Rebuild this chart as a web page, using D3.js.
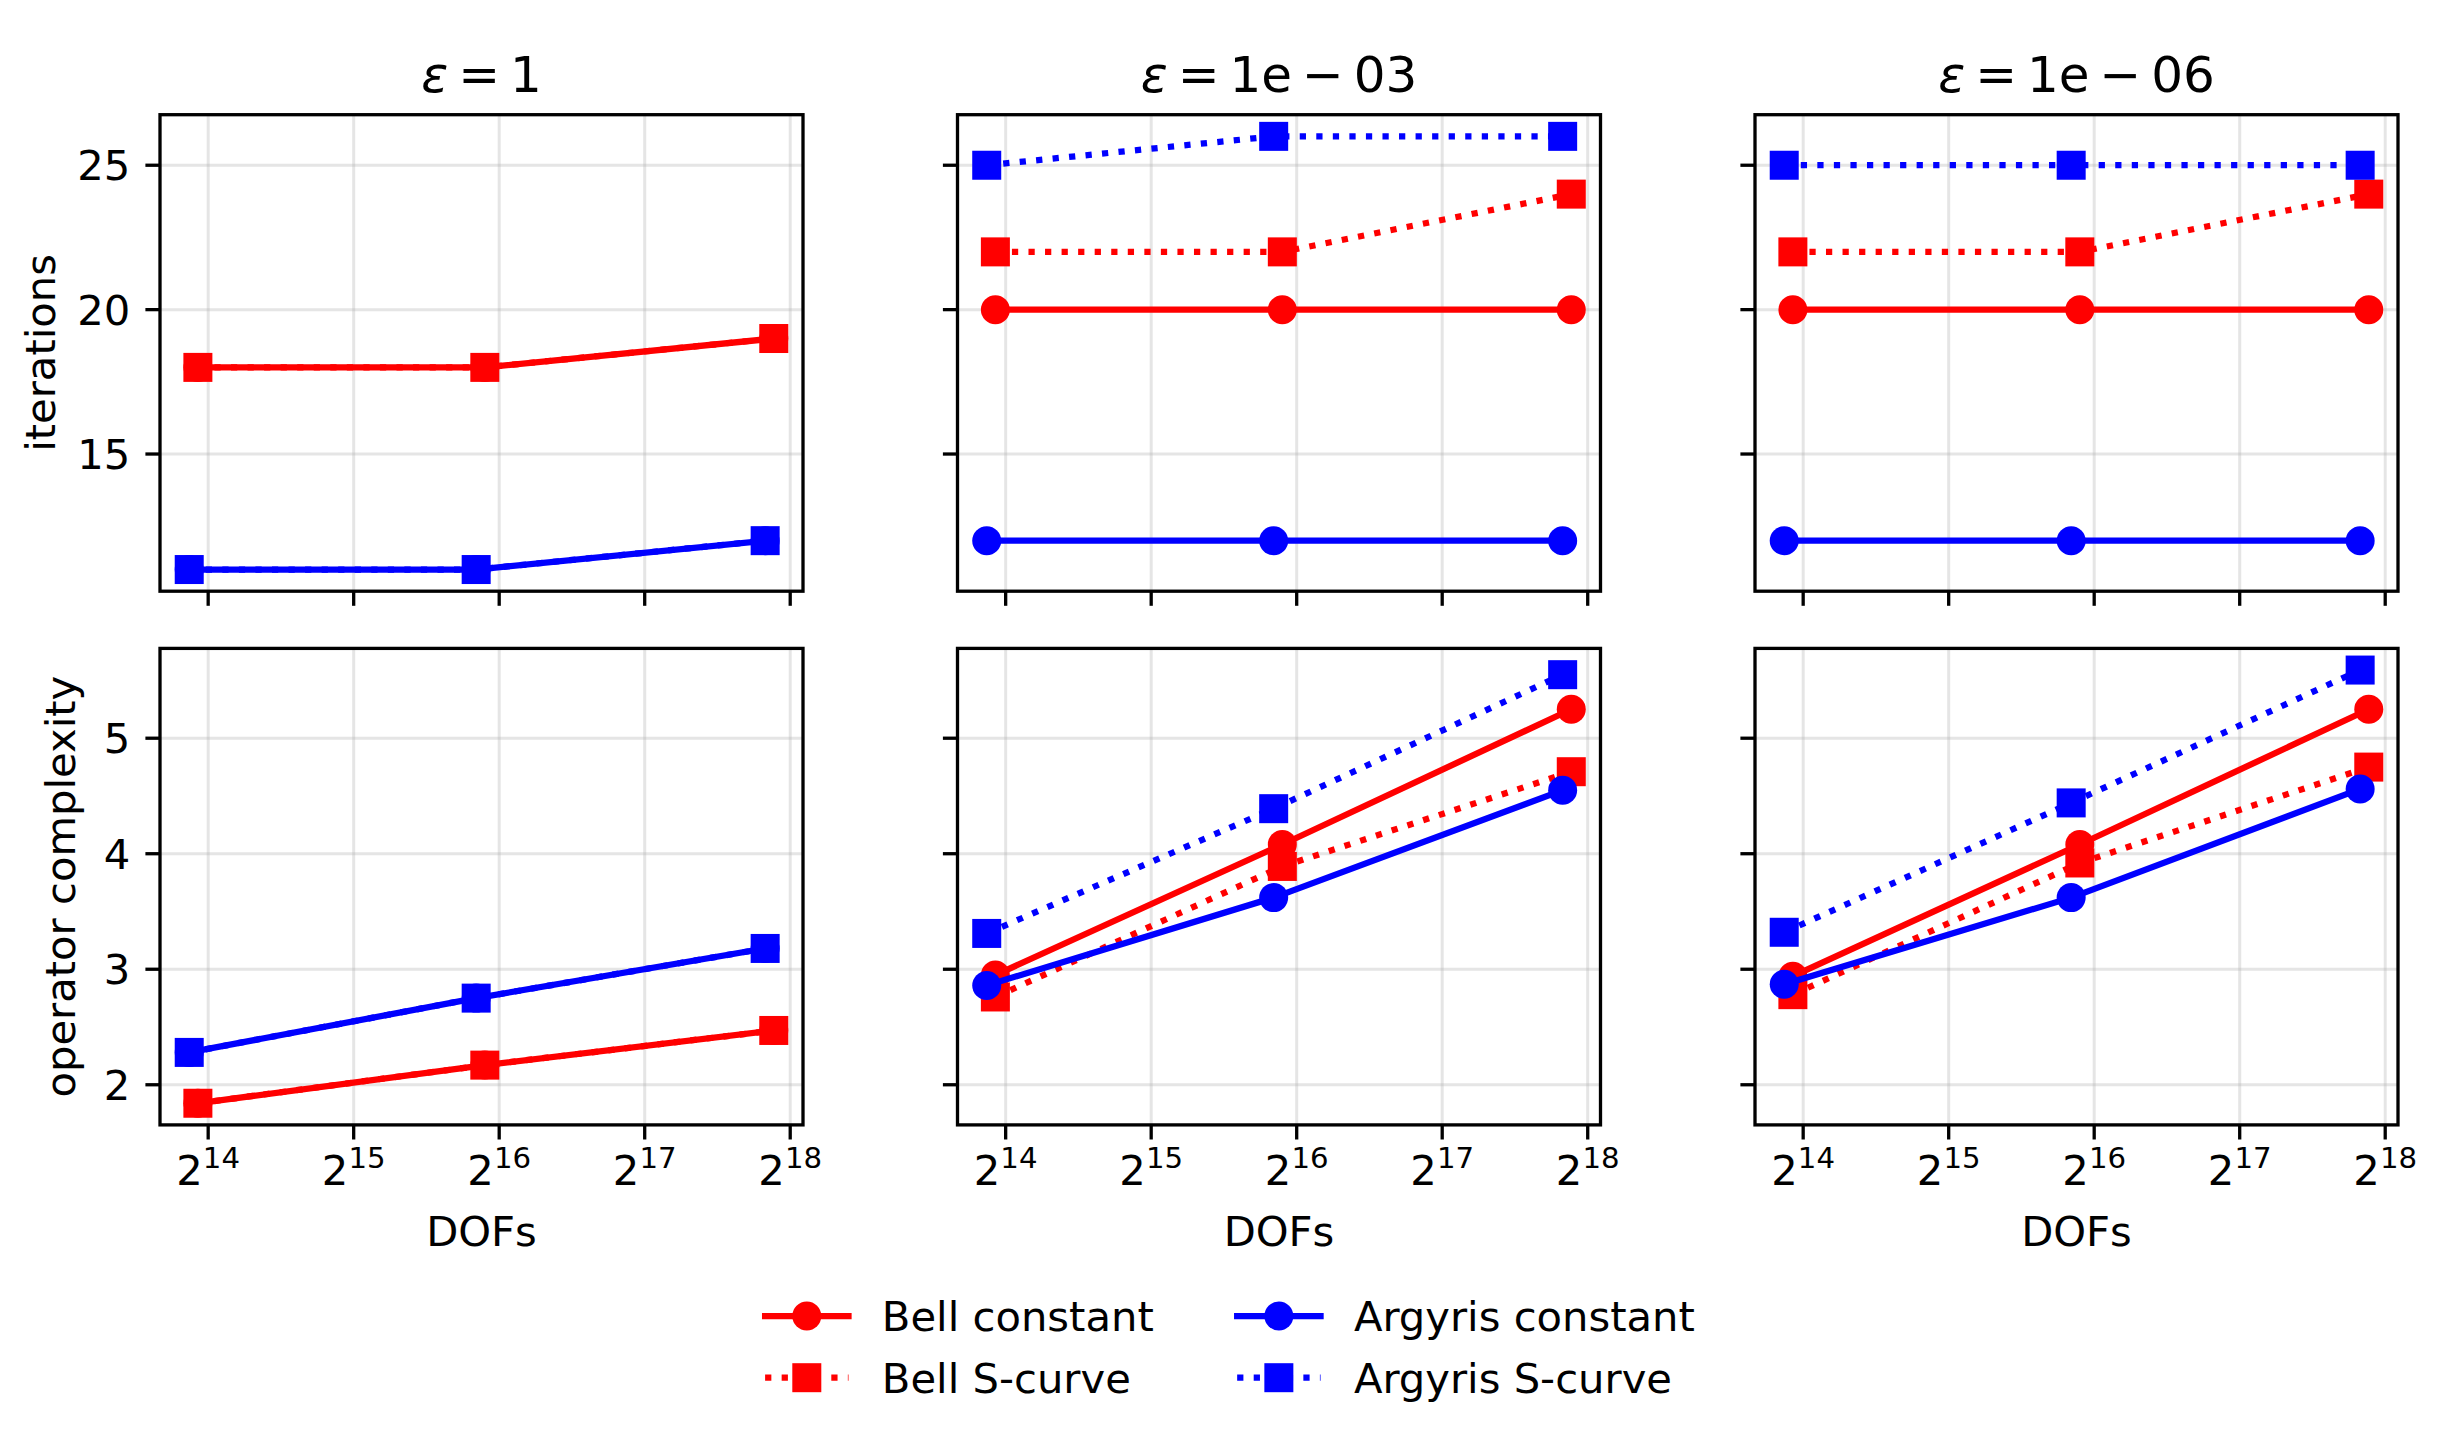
<!DOCTYPE html>
<html>
<head>
<meta charset="utf-8">
<script src="https://cdn.jsdelivr.net/npm/d3@7"></script>
<style>
body { margin: 0; background: #fff; }
text { font-family: "DejaVu Sans", sans-serif; fill: #000; }
</style>
</head>
<body>
<svg id="fig" width="2460" height="1440"></svg>
<script>

// ---- data ----
var epsLabels = ['1', '1e-03', '1e-06'];
var dofsBell = [15600, 61200, 242400];
var dofsArgyris = [14970, 58730, 232650];
var xTickExp = [14, 15, 16, 17, 18];

var seriesNames = ['Bell constant', 'Bell S-curve', 'Argyris constant', 'Argyris S-curve'];

// iterations, one inner array per epsilon column
var itBellConst = [[18, 18, 19], [20, 20, 20], [20, 20, 20]];
var itBellS     = [[18, 18, 19], [22, 22, 24], [22, 22, 24]];
var itArgConst  = [[11, 11, 12], [12, 12, 12], [12, 12, 12]];
var itArgS      = [[11, 11, 12], [25, 26, 26], [25, 25, 25]];
var itTicks = [15, 20, 25];

// operator complexity
var ocBellConst = [[1.84, 2.17, 2.47], [2.95, 4.08, 5.25], [2.94, 4.08, 5.25]];
var ocBellS     = [[1.84, 2.17, 2.47], [2.76, 3.89, 4.71], [2.78, 3.92, 4.75]];
var ocArgConst  = [[2.28, 2.75, 3.18], [2.86, 3.62, 4.55], [2.87, 3.62, 4.56]];
var ocArgS      = [[2.28, 2.75, 3.18], [3.31, 4.39, 5.55], [3.32, 4.44, 5.59]];
var ocTicks = [2, 3, 4, 5];


var svg = d3.select('#fig');
var fs = 41.7;              // 10pt at 300 dpi
var W = 643, H = 476.5;
var colX = [160, 957.5, 1755];
var rowY = [114.7, 648.4];
var lw = 6.25, ms = 29, tickLen = 14.6, spineW = 3.3;
var dotted = '6.25,10.3';

var styles = [
    { color: 'red',  dash: null,   marker: 'o' },
    { color: 'red',  dash: dotted, marker: 's' },
    { color: 'blue', dash: null,   marker: 'o' },
    { color: 'blue', dash: dotted, marker: 's' }
];

var rows = [
    { label: 'iterations', sets: [itBellConst, itBellS, itArgConst, itArgS], ticks: itTicks, lx: 55 },
    { label: 'operator complexity', sets: [ocBellConst, ocBellS, ocArgConst, ocArgS], ticks: ocTicks, lx: 74.5 }
];

// shared log2 x domain with 5% margins (in log space)
var lext = d3.extent(dofsBell.concat(dofsArgyris), function(d){ return Math.log2(d); });
var lm = (lext[1] - lext[0]) * 0.05;
var xDomain = [Math.pow(2, lext[0] - lm), Math.pow(2, lext[1] + lm)];

function drawMarker(g, kind, x, y, color){
    if( kind == 'o' ){
        g.append('circle').attr('cx', x).attr('cy', y).attr('r', ms/2).attr('fill', color);
    } else {
        g.append('rect').attr('x', x - ms/2).attr('y', y - ms/2)
            .attr('width', ms).attr('height', ms).attr('fill', color);
    }
}

function drawPanel(r, c){
    var row = rows[r];
    var all = [];
    row.sets.forEach(function(s){ s.forEach(function(a){ all = all.concat(a); }); });
    var ye = d3.extent(all);
    var ym = (ye[1] - ye[0]) * 0.05;

    var x = d3.scaleLog().base(2).domain(xDomain).range([0, W]);
    var y = d3.scaleLinear().domain([ye[0] - ym, ye[1] + ym]).range([H, 0]);

    var g = svg.append('g').attr('transform', 'translate(' + colX[c] + ',' + rowY[r] + ')');

    // grid
    var grid = g.append('g').attr('stroke', '#b0b0b0').attr('stroke-opacity', 0.33).attr('stroke-width', 3);
    xTickExp.forEach(function(e){
        var px = x(Math.pow(2, e));
        grid.append('line').attr('x1', px).attr('x2', px).attr('y1', 0).attr('y2', H);
    });
    row.ticks.forEach(function(t){
        grid.append('line').attr('x1', 0).attr('x2', W).attr('y1', y(t)).attr('y2', y(t));
    });

    // series: line, then its markers
    styles.forEach(function(st, s){
        var dofs = s < 2 ? dofsBell : dofsArgyris;
        var vals = row.sets[s][c];
        var pts = vals.map(function(v, i){ return [x(dofs[i]), y(v)]; });
        var path = g.append('path')
            .attr('d', d3.line()(pts))
            .attr('fill', 'none')
            .attr('stroke', st.color)
            .attr('stroke-width', lw)
            .attr('stroke-linejoin', 'round');
        if( st.dash ){
            path.attr('stroke-dasharray', st.dash).attr('stroke-linecap', 'butt');
        } else {
            path.attr('stroke-linecap', 'square');
        }
        pts.forEach(function(p){ drawMarker(g, st.marker, p[0], p[1], st.color); });
    });

    // spines
    g.append('rect').attr('x', 0).attr('y', 0).attr('width', W).attr('height', H)
        .attr('fill', 'none').attr('stroke', '#000').attr('stroke-width', spineW);

    // x ticks
    xTickExp.forEach(function(e){
        var px = x(Math.pow(2, e));
        g.append('line').attr('x1', px).attr('x2', px).attr('y1', H).attr('y2', H + tickLen)
            .attr('stroke', '#000').attr('stroke-width', spineW);
        if( r == 1 ){
            var t = g.append('text').attr('x', px).attr('y', H + 60)
                .attr('text-anchor', 'middle').style('font-size', fs + 'px');
            t.append('tspan').text('2');
            t.append('tspan').attr('dy', -17).style('font-size', (fs*0.7) + 'px').text(e);
        }
    });
    // y ticks
    row.ticks.forEach(function(tv){
        var py = y(tv);
        g.append('line').attr('x1', -tickLen).attr('x2', 0).attr('y1', py).attr('y2', py)
            .attr('stroke', '#000').attr('stroke-width', spineW);
        if( c == 0 ){
            g.append('text').attr('x', -2*tickLen - 0.5).attr('y', py + 15.2)
                .attr('text-anchor', 'end').style('font-size', fs + 'px').text(tv);
        }
    });

    if( r == 0 ){
        var title = g.append('text').attr('x', W/2).attr('y', -23)
            .attr('text-anchor', 'middle').style('font-size', '50px')
            .style('word-spacing', '-6px');
        title.append('tspan').style('font-style', 'italic').text('\u03b5');
        title.append('tspan').text(' = ' + epsLabels[c].replace('-', ' \u2212 '));
    } else {
        g.append('text').attr('x', W/2).attr('y', H + 121)
            .attr('text-anchor', 'middle').style('font-size', fs + 'px').text('DOFs');
    }
    if( c == 0 ){
        svg.append('text')
            .attr('transform', 'translate(' + row.lx + ',' + (rowY[r] + H/2) + ') rotate(-90)')
            .attr('text-anchor', 'middle').style('font-size', fs + 'px').text(row.label);
    }
}

for( var r = 0; r < 2; r++ ){
    for( var c = 0; c < 3; c++ ){
        drawPanel(r, c);
    }
}

// ---- legend, two columns, centred under the figure ----
var handleLen = 2.0*fs, handlePad = 0.8*fs, colSpace = 2.0*fs;
var legBase = [1331, 1392.7];
var leg = svg.append('g');

function textWidth(s){
    var t = leg.append('text').style('font-size', fs + 'px').text(s);
    var w = t.node().getComputedTextLength();
    t.remove();
    return w;
}
var colW = [
    Math.max(textWidth(seriesNames[0]), textWidth(seriesNames[1])),
    Math.max(textWidth(seriesNames[2]), textWidth(seriesNames[3]))
];
var totalW = 2*(handleLen + handlePad) + colW[0] + colW[1] + colSpace;
var legX0 = 1230 - totalW/2;
var legColX = [legX0, legX0 + handleLen + handlePad + colW[0] + colSpace];

seriesNames.forEach(function(name, s){
    var st = styles[s];
    var cx = legColX[Math.floor(s/2)];
    var base = legBase[s % 2];
    var cy = base - 15;
    var hl = leg.append('line').attr('x1', cx).attr('x2', cx + handleLen)
        .attr('y1', cy).attr('y2', cy)
        .attr('stroke', st.color).attr('stroke-width', lw);
    if( st.dash ) hl.attr('stroke-dasharray', st.dash).attr('stroke-linecap', 'butt');
    else hl.attr('stroke-linecap', 'square');
    drawMarker(leg, st.marker, cx + handleLen/2, cy, st.color);
    leg.append('text').attr('x', cx + handleLen + handlePad).attr('y', base)
        .style('font-size', fs + 'px').text(name);
});

</script>
</body>
</html>
